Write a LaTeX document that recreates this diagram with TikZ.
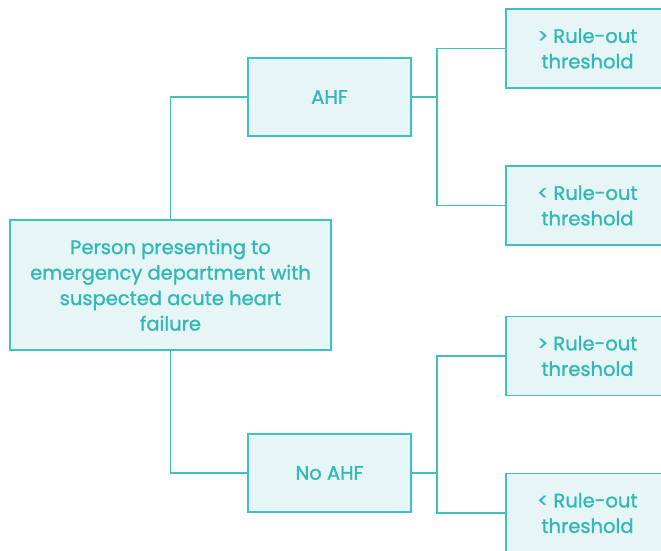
\documentclass[tikz,border=0pt]{standalone}
\usepackage{fontspec}
\setmainfont{Poppins}[FakeBold=1.2]
\usetikzlibrary{positioning,calc}
\definecolor{Teal}{HTML}{3FC1C0}
\definecolor{TealText}{HTML}{33B8B8}
\definecolor{SoftTeal}{HTML}{E6F5F5}

\begin{document}
\begin{tikzpicture}[x=1pt, y=-1pt,
    box/.style={draw=Teal, line width=1.8pt, fill=SoftTeal, text=TealText, align=center,
      font=\fontsize{19.5}{25.5}\selectfont, inner sep=0pt},
    link/.style={draw=Teal, line width=1.8pt}]
  \useasboundingbox (0,0) rectangle (661,551);
  \node[box, minimum width=321pt, minimum height=130pt] (person) at (170.5,285)
    {Person presenting to\\emergency department with\\suspected acute heart\\failure};
  \node[box, minimum width=163pt, minimum height=78pt] (ahf) at (329.5,97) {AHF};
  \node[box, minimum width=163pt, minimum height=78pt] (noahf) at (329.5,473) {No AHF};
  \node[box, minimum width=163pt, minimum height=79pt] (ahfabove) at (587.5,48.5) {> Rule-out\\threshold};
  \node[box, minimum width=163pt, minimum height=79pt] (ahfbelow) at (587.5,205.5) {< Rule-out\\threshold};
  \node[box, minimum width=163pt, minimum height=79pt] (noahfabove) at (587.5,356) {> Rule-out\\threshold};
  \node[box, minimum width=163pt, minimum height=79pt] (noahfbelow) at (587.5,513) {< Rule-out\\threshold};
  % branches
  \draw[link] (person.north) |- (ahf.west);
  \draw[link] (person.south) |- (noahf.west);
  \draw[link] (ahf.east) -- ++(25,0) coordinate (ahfsplit);
  \draw[link] (ahfsplit) |- (ahfabove.west);
  \draw[link] (ahfsplit) |- (ahfbelow.west);
  \draw[link] (noahf.east) -- ++(25,0) coordinate (noahfsplit);
  \draw[link] (noahfsplit) |- (noahfabove.west);
  \draw[link] (noahfsplit) |- (noahfbelow.west);
\end{tikzpicture}
\end{document}
